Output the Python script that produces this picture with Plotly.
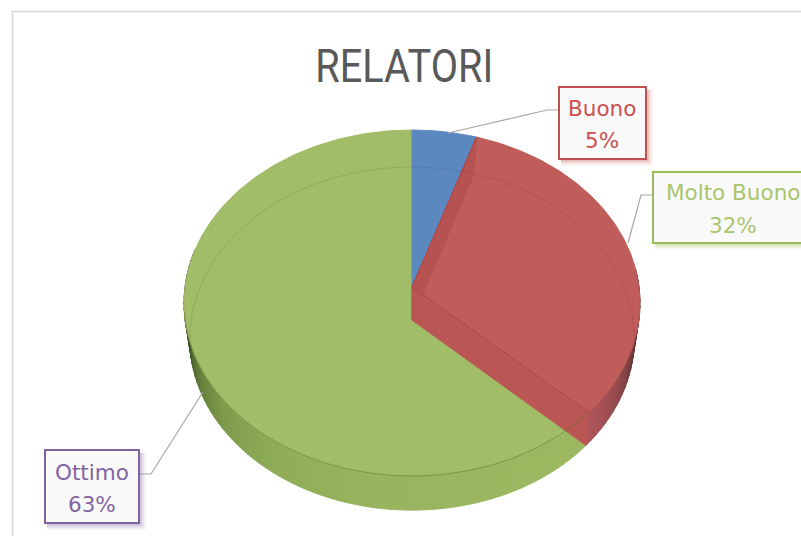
import numpy as np
import plotly.graph_objects as go

# ---- data ----
categories = ["Buono", "Molto Buono", "Ottimo"]
values = [5, 32, 63]
title_text = "RELATORI"

# ---- style ----
top_colors = ["#5b88bf", "#c05c59", "#a2bd67"]
border_colors = ["#c0504d", "#9bbb59", "#8064a2"]
text_colors = ["#c9504e", "#a9c56e", "#8064a2"]
TOP = dict(y0=287, a=227, b=171.5, k=0.0925)
BOT = dict(y0=320, a=221, b=169.6, k=0.108)
CX = 412


def proj(theta, e):
    th = np.radians(np.asarray(theta, dtype=float))
    w = 1 + e["k"] * np.cos(th)
    return CX + e["a"] * np.sin(th) / w, e["y0"] - e["b"] * np.cos(th) / w


def arc(a0, a1, e, n=120):
    return proj(np.linspace(a0, a1, n), e)


def hexrgb(h):
    return np.array([int(h[i:i + 2], 16) for i in (1, 3, 5)], dtype=float)


def ramp(x, xs, cols):
    rgb = [np.interp(x, xs, [hexrgb(c)[i] for c in cols]) for i in range(3)]
    return "rgb(%d,%d,%d)" % tuple(rgb)


cum = np.cumsum([0] + values) / sum(values) * 360
fig = go.Figure()


def poly(x, y, fill, line=None, width=1):
    fig.add_trace(go.Scatter(x=list(x), y=list(y), mode="lines", fill="toself", fillcolor=fill,
                             line=dict(color=line or fill, width=width), hoverinfo="skip", showlegend=False))


def stroke(x, y, color, width=1):
    fig.add_trace(go.Scatter(x=list(x), y=list(y), mode="lines", line=dict(color=color, width=width),
                             hoverinfo="skip", showlegend=False))


def wall(a0, a1, stops, cols, n):
    edges = np.linspace(a0, a1, n + 1)
    for s, e in zip(edges[:-1], edges[1:]):
        tx, ty = arc(s, e, TOP, 4)
        bx, by = arc(e, s, BOT, 4)
        poly(np.r_[tx, bx, tx[0]], np.r_[ty, by, ty[0]], ramp((s + e) / 2, stops, cols))


# outer walls
green_start = cum[2]
wall(green_start, 283, [green_start, 190, 215, 232, 245, 258, 270, 283],
     ["#9dba62", "#98b45f", "#8fad58", "#7f9c4c", "#64803a", "#45572a", "#2c3419", "#1c2010"], 75)
wall(84, cum[2], [84, 96, 108, 120, cum[2]],
     ["#1f1414", "#3f2526", "#6f3a3c", "#954a4c", "#b0575a"], 24)

# top faces
for i in [2, 0, 1]:
    x, y = arc(cum[i], cum[i + 1], TOP, 200)
    poly(np.r_[CX, x, CX], np.r_[TOP["y0"], y, TOP["y0"]], top_colors[i])

# inner walls of the red slice (back one first, then the front one)
for ang, col in ((cum[1], "#b65250"), (cum[2], "#ba5653")):
    x1, y1 = proj(ang, TOP)
    x2, y2 = proj(ang, BOT)
    poly([CX, x1, x2, CX, CX], [TOP["y0"], y1, y2, BOT["y0"], TOP["y0"]], col)
    stroke([CX, x1], [TOP["y0"], y1], "rgba(140,50,50,0.35)")

# see-through edge of the base and front rim of the top face
x, y = arc(-98, 98, BOT, 200)
stroke(x, y, "rgba(60,50,40,0.14)")
x, y = arc(cum[2], 262, TOP, 160)
stroke(x, y, "rgba(90,115,45,0.55)")

# leader lines
leaders = [([559, 547, 448], [110, 110, 133]),
           ([653, 641, 628], [195, 195, 243]),
           ([139, 151, 203], [474, 474, 392])]
for lx, ly in leaders:
    stroke(lx, ly, "#a6a6a6", 1.2)

# callouts
boxes = [(559, 87, 646, 159), (653, 172, 818, 243), (45, 450, 139, 523)]
text_cx = [601.5, 733, 92]
line_y = [(108, 140), (192, 225), (472, 504)]
shapes = []
annots = []
for i, (x0, y0, x1, y1) in enumerate(boxes):
    for d, op in ((7, 0.07), (5, 0.12), (3, 0.2)):
        shapes.append(dict(type="rect", x0=x0 + 2, y0=y0 + 3, x1=x1 + d, y1=y1 + d, xref="x", yref="y",
                           fillcolor=border_colors[i], opacity=op, line_width=0, layer="above"))
    shapes.append(dict(type="rect", x0=x0, y0=y0, x1=x1, y1=y1, xref="x", yref="y", fillcolor="#fbfafa",
                       line=dict(color=border_colors[i], width=2), layer="above"))
    pct = "%d%%" % round(values[i] / sum(values) * 100)
    for txt, yy in zip((categories[i], pct), line_y[i]):
        annots.append(dict(x=text_cx[i], y=yy, xref="x", yref="y", text=txt, showarrow=False, xanchor="center",
                           yanchor="middle", font=dict(family="DejaVu Sans", size=21.5, color=text_colors[i])))

# frame
shapes.append(dict(type="path", path="M 12.5 536 L 12.5 11.5 L 801 11.5", xref="x", yref="y",
                   line=dict(color="#d9d9d9", width=1.5), layer="below"))
annots.append(dict(x=404, y=65, xref="x", yref="y", text=title_text, showarrow=False, xanchor="center",
                   yanchor="middle", font=dict(family="Roboto", size=47, color="#595959")))

fig.update_layout(width=801, height=536, margin=dict(l=0, r=0, t=0, b=0), paper_bgcolor="white",
                  plot_bgcolor="white", showlegend=False, shapes=shapes, annotations=annots,
                  xaxis=dict(range=[0, 801], visible=False, fixedrange=True),
                  yaxis=dict(range=[536, 0], visible=False, fixedrange=True))
post = """
document.body.style.margin='0';document.documentElement.style.overflow='hidden';
document.querySelectorAll('.annotation-text').forEach(function(t){
  if(t.textContent==='RELATORI'){t.setAttribute('textLength','178');t.setAttribute('lengthAdjust','spacingAndGlyphs');}
});
"""
fig.write_html("out.html", config=dict(displayModeBar=False), post_script=post)
